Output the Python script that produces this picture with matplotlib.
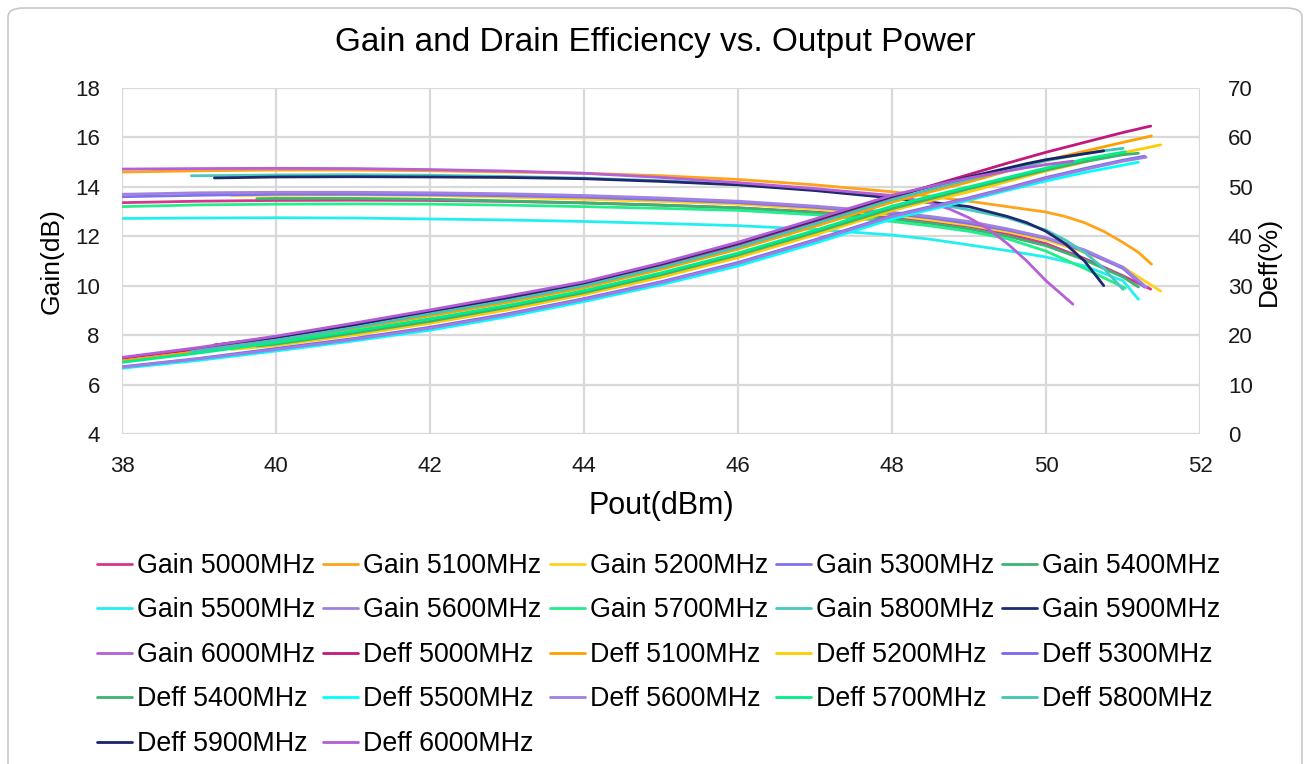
import matplotlib
matplotlib.use('Agg')
import matplotlib.pyplot as plt
from matplotlib.patches import FancyBboxPatch

plt.rcParams['font.family'] = ['Liberation Sans', 'DejaVu Sans']

# ---------------- data ----------------
freqs = [5000, 5100, 5200, 5300, 5400, 5500, 5600, 5700, 5800, 5900, 6000]

pout_5000 = [38, 39, 40, 41, 42, 43, 44, 45, 46, 47, 48, 48.5, 49, 49.5, 50, 50.5, 51, 51.36]
gain_5000 = [13.36, 13.42, 13.45, 13.46, 13.45, 13.41, 13.35, 13.26, 13.15, 12.98, 12.76, 12.6, 12.4, 12.1, 11.7, 11.1, 10.4, 9.86]
deff_5000 = [15.3, 17.2, 19.5, 22.0, 24.7, 27.4, 30.4, 34.1, 38.3, 43.0, 47.8, 50.2, 52.5, 54.8, 57.0, 59.0, 61.0, 62.3]

pout_5100 = [38, 39, 40, 41, 42, 43, 44, 45, 46, 47, 48, 48.5, 49, 49.5, 50, 50.25, 50.5, 50.75, 51, 51.2, 51.37]
gain_5100 = [14.6, 14.65, 14.68, 14.68, 14.65, 14.6, 14.55, 14.45, 14.3, 14.08, 13.8, 13.62, 13.42, 13.2, 12.98, 12.8, 12.55, 12.2, 11.75, 11.35, 10.87]
deff_5100 = [14.8, 16.7, 18.9, 21.3, 23.9, 26.6, 29.6, 33.3, 37.4, 42.0, 46.9, 49.0, 51.0, 53.2, 55.3, 56.3, 57.2, 58.1, 59.0, 59.7, 60.3]

pout_5200 = [39.42, 40, 41, 42, 43, 44, 45, 46, 47, 48, 48.5, 49, 49.5, 50, 50.5, 51, 51.49]
gain_5200 = [13.65, 13.66, 13.67, 13.65, 13.58, 13.5, 13.41, 13.3, 13.1, 12.85, 12.66, 12.45, 12.18, 11.85, 11.35, 10.75, 9.78]
deff_5200 = [17.1, 17.9, 20.0, 22.4, 25.1, 28.2, 31.7, 35.7, 40.3, 45.2, 47.2, 49.0, 51.1, 53.2, 55.0, 56.9, 58.5]

pout_5300 = [38, 39, 40, 41, 42, 43, 44, 45, 46, 47, 48, 48.5, 49, 49.5, 50, 50.5, 51, 51.28]
gain_5300 = [13.6, 13.66, 13.7, 13.7, 13.68, 13.64, 13.58, 13.48, 13.36, 13.17, 12.92, 12.74, 12.52, 12.25, 11.92, 11.4, 10.7, 9.94]
deff_5300 = [13.6, 15.3, 17.3, 19.3, 21.6, 24.3, 27.4, 30.8, 34.7, 39.3, 44.2, 46.0, 47.8, 49.8, 51.9, 53.7, 55.4, 56.2]

pout_5400 = [39.75, 40, 41, 42, 43, 44, 45, 46, 47, 48, 48.5, 49, 49.5, 50, 50.5, 51, 51.2]
gain_5400 = [13.52, 13.53, 13.53, 13.5, 13.43, 13.35, 13.26, 13.15, 12.96, 12.7, 12.52, 12.3, 12.0, 11.62, 11.05, 10.35, 9.95]
deff_5400 = [17.8, 18.2, 20.4, 22.8, 25.6, 28.6, 32.2, 36.2, 40.8, 45.6, 47.6, 49.6, 51.5, 53.4, 55.1, 56.5, 56.8]

pout_5500 = [38, 39, 40, 41, 42, 43, 44, 45, 46, 47, 48, 48.5, 49, 49.5, 50, 50.5, 51, 51.2]
gain_5500 = [12.72, 12.74, 12.75, 12.74, 12.7, 12.66, 12.6, 12.52, 12.43, 12.28, 12.05, 11.88, 11.65, 11.42, 11.16, 10.8, 10.2, 9.45]
deff_5500 = [13.3, 14.9, 16.8, 18.8, 21.0, 23.7, 26.8, 30.2, 34.0, 38.6, 43.5, 45.4, 47.3, 49.3, 51.2, 52.9, 54.4, 55.0]

pout_5600 = [38, 39, 40, 41, 42, 43, 44, 45, 46, 47, 48, 48.5, 49, 49.5, 50, 50.5, 51, 51.3]
gain_5600 = [13.7, 13.76, 13.78, 13.78, 13.76, 13.72, 13.65, 13.55, 13.42, 13.22, 12.97, 12.8, 12.6, 12.3, 11.95, 11.45, 10.75, 9.95]
deff_5600 = [13.5, 15.2, 17.1, 19.1, 21.4, 24.1, 27.2, 30.6, 34.5, 39.1, 44.0, 45.8, 47.6, 49.6, 51.7, 53.5, 55.2, 56.0]

pout_5700 = [38, 39, 40, 41, 42, 43, 44, 45, 46, 47, 48, 48.5, 49, 49.5, 50, 50.5, 51.03]
gain_5700 = [13.2, 13.27, 13.3, 13.31, 13.3, 13.26, 13.2, 13.13, 13.05, 12.87, 12.6, 12.42, 12.2, 11.9, 11.4, 10.7, 9.9]
deff_5700 = [14.5, 16.4, 18.5, 20.8, 23.3, 26.0, 29.0, 32.6, 36.6, 41.2, 46.1, 48.1, 50.0, 51.9, 53.8, 55.6, 57.1]

pout_5800 = [38.9, 39, 40, 41, 42, 43, 44, 45, 46, 47, 48, 48.5, 49, 49.5, 50, 50.25, 50.5, 50.75, 51.0]
gain_5800 = [14.45, 14.45, 14.48, 14.49, 14.47, 14.42, 14.35, 14.25, 14.1, 13.88, 13.57, 13.35, 13.07, 12.75, 12.25, 11.85, 11.35, 10.7, 9.85]
deff_5800 = [16.7, 16.9, 19.0, 21.5, 24.3, 27.0, 30.0, 33.7, 37.8, 42.5, 47.4, 49.5, 51.5, 53.4, 55.3, 56.0, 56.7, 57.3, 57.8]

pout_5900 = [39.2, 40, 41, 42, 43, 44, 45, 46, 47, 48, 48.5, 49, 49.5, 49.75, 50, 50.25, 50.5, 50.75]
gain_5900 = [14.36, 14.4, 14.41, 14.4, 14.38, 14.33, 14.22, 14.08, 13.85, 13.55, 13.38, 13.2, 12.8, 12.55, 12.2, 11.7, 11.0, 10.0]
deff_5900 = [18.0, 19.6, 22.1, 24.9, 27.6, 30.6, 34.4, 38.6, 43.3, 48.1, 50.1, 52.0, 53.8, 54.7, 55.5, 56.1, 56.7, 57.3]

pout_6000 = [38, 39, 40, 41, 42, 43, 44, 45, 46, 47, 48, 48.5, 48.75, 49, 49.25, 49.5, 49.75, 50, 50.35]
gain_6000 = [14.72, 14.74, 14.75, 14.74, 14.7, 14.64, 14.55, 14.38, 14.17, 13.93, 13.65, 13.35, 13.1, 12.75, 12.3, 11.7, 11.0, 10.2, 9.25]
deff_6000 = [15.5, 17.5, 19.8, 22.4, 25.1, 27.9, 30.8, 34.6, 38.8, 43.5, 48.3, 50.1, 51.0, 51.8, 52.5, 53.2, 53.9, 54.5, 55.2]

pouts = [pout_5000, pout_5100, pout_5200, pout_5300, pout_5400, pout_5500,
         pout_5600, pout_5700, pout_5800, pout_5900, pout_6000]
gains = [gain_5000, gain_5100, gain_5200, gain_5300, gain_5400, gain_5500,
         gain_5600, gain_5700, gain_5800, gain_5900, gain_6000]
deffs = [deff_5000, deff_5100, deff_5200, deff_5300, deff_5400, deff_5500,
         deff_5600, deff_5700, deff_5800, deff_5900, deff_6000]

gain_colors = ['#D6368C', '#FFA31A', '#FFD21F', '#7F72EC', '#3CB371', '#22F0F0',
               '#A181E0', '#22EE8C', '#48C8C0', '#1F2A6E', '#B660D8']
deff_colors = ['#C21A7C', '#FFA000', '#FFCC00', '#7B68EE', '#3CB371', '#00FFFF',
               '#9E7EE0', '#00EE88', '#40C4B8', '#1A2366', '#B35CD6']

title = 'Gain and Drain Efficiency vs. Output Power'
x_ticks = [38, 40, 42, 44, 46, 48, 50, 52]
gain_ticks = [4, 6, 8, 10, 12, 14, 16, 18]
deff_ticks = [0, 10, 20, 30, 40, 50, 60, 70]

# ---------------- figure ----------------
W, H = 1311, 764
fig = plt.figure(figsize=(W / 100, H / 100), dpi=100)

frame = FancyBboxPatch((8 / W, -0.05), (W - 17) / W, 1.05 - 8 / H,
                       boxstyle='round,pad=0,rounding_size=0.012',
                       transform=fig.transFigure, facecolor='none',
                       edgecolor='#C8C8C8', linewidth=1.2, zorder=-5)
fig.patches.append(frame)

ax = fig.add_axes([122 / W, 1 - 434 / H, (1200 - 122) / W, (434 - 88) / H])
ax.set_facecolor('none')
ax2 = ax.twinx()

handles = []
for f, px, g, c in zip(freqs, pouts, gains, gain_colors):
    h, = ax.plot(px, g, color=c, lw=2.0, solid_capstyle='round',
                 solid_joinstyle='round', label=f'Gain {f}MHz')
    handles.append(h)
for f, px, d, c in zip(freqs, pouts, deffs, deff_colors):
    h, = ax2.plot(px, d, color=c, lw=2.0, solid_capstyle='round',
                  solid_joinstyle='round', label=f'Deff {f}MHz')
    handles.append(h)

ax.set_xlim(38, 52)
ax.set_ylim(4, 18)
ax2.set_ylim(0, 70)
ax.set_xticks(x_ticks)
ax.set_yticks(gain_ticks)
ax2.set_yticks(deff_ticks)

ax.grid(True, color='#D9D9D9', lw=1.6)
for a in (ax, ax2):
    for s in a.spines.values():
        s.set_visible(False)
    a.tick_params(length=0, labelsize=16, colors='#1A1A1A')
ax.tick_params(axis='x', pad=16)
ax.tick_params(axis='y', pad=16)
ax2.tick_params(axis='y', pad=20)

ax.set_xlabel('Pout(dBm)', fontsize=22, labelpad=10)
ax.set_ylabel('Gain(dB)', fontsize=19, labelpad=8)
ax2.set_ylabel('Deff(%)', fontsize=19, labelpad=3)

fig.text(0.5, 1 - 43 / H, title, ha='center', va='center', fontsize=24)

# legend: row-major order in 5 columns
ncol = 5
order = []
for c in range(ncol):
    order.extend(range(c, len(handles), ncol))
leg = fig.legend([handles[i] for i in order], [handles[i].get_label() for i in order],
                 ncol=ncol, loc='upper left', bbox_to_anchor=(97 / W, 1 - 553 / H),
                 frameon=False, fontsize=19.3, handlelength=1.3, handletextpad=0.19,
                 columnspacing=0.3, labelspacing=0.69, borderpad=0, borderaxespad=0)

fig.savefig('out.png', dpi=100)
